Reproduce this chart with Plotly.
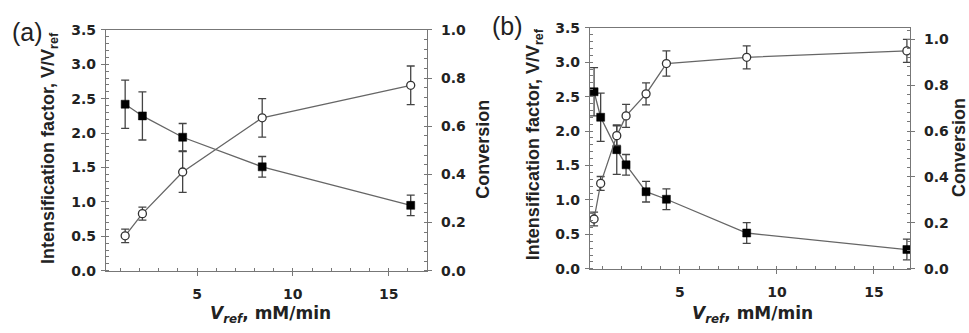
import plotly.graph_objects as go

# ---- data: panel (a)
a_x = [1.25, 2.15, 4.25, 8.4, 16.15]
a_int = [2.42, 2.25, 1.94, 1.51, 0.95]
a_int_err = [0.35, 0.35, 0.2, 0.15, 0.15]
a_conv = [0.145, 0.237, 0.41, 0.635, 0.77]
a_conv_err = [0.028, 0.027, 0.085, 0.08, 0.08]

# ---- data: panel (b)
b_x = [0.57, 0.91, 1.74, 2.22, 3.25, 4.3, 8.44, 16.7]
b_int = [2.57, 2.20, 1.73, 1.51, 1.12, 1.01, 0.52, 0.28]
b_int_err = [0.35, 0.35, 0.36, 0.15, 0.15, 0.15, 0.15, 0.15]
b_conv = [0.217, 0.372, 0.58, 0.666, 0.762, 0.894, 0.921, 0.949]
b_conv_err = [0.03, 0.03, 0.043, 0.05, 0.048, 0.055, 0.05, 0.05]

x_ticks = [5, 10, 15]
left_ticks = [0.0, 0.5, 1.0, 1.5, 2.0, 2.5, 3.0, 3.5]
right_ticks = [0.0, 0.2, 0.4, 0.6, 0.8, 1.0]

W, H = 969, 333
FONT = "Liberation Sans"
HFONT = "DejaVu Sans"
AX = "#777777"
LINE = "#666666"
ERR = "#444444"

fig = go.Figure()

def add_panel(x, intens, intens_err, conv, conv_err, xa, ya_left, ya_right):
    fig.add_trace(go.Scatter(
        x=x, y=conv, xaxis=xa, yaxis=ya_right, mode="lines+markers",
        line=dict(color=LINE, width=1.3),
        marker=dict(symbol="circle", size=8, color="white", line=dict(color="#333", width=1.3)),
        error_y=dict(type="data", array=conv_err, color=ERR, thickness=1.3, width=4),
        showlegend=False))
    fig.add_trace(go.Scatter(
        x=x, y=intens, xaxis=xa, yaxis=ya_left, mode="lines+markers",
        line=dict(color=LINE, width=1.3),
        marker=dict(symbol="square", size=8, color="black", line=dict(color="black", width=0.5)),
        error_y=dict(type="data", array=intens_err, color=ERR, thickness=1.3, width=4),
        showlegend=False))

add_panel(a_x, a_int, a_int_err, a_conv, a_conv_err, "x", "y", "y2")
add_panel(b_x, b_int, b_int_err, b_conv, b_conv_err, "x2", "y3", "y4")

tickfont = dict(family=HFONT, size=14, color="#222", weight="bold")

def xaxis(domain, rng, anchor):
    return dict(domain=domain, range=rng, anchor=anchor, showline=True, linecolor=AX,
                linewidth=1.2, mirror=True, showgrid=False, zeroline=False,
                tickvals=x_ticks, ticks="outside", ticklen=4, tickcolor=AX,
                tickfont=tickfont, ticklabelstandoff=6,
                minor=dict(ticks="inside", ticklen=3, dtick=1, tickcolor=AX, showgrid=False))

def yleft(domain, anchor):
    return dict(domain=domain, range=[0, 3.5], anchor=anchor, showline=True, linecolor=AX,
                linewidth=1.2, showgrid=False, zeroline=False,
                tickvals=left_ticks, ticktext=["%.1f" % v for v in left_ticks],
                ticks="outside", ticklen=4, tickcolor=AX, tickfont=tickfont,
                ticklabelstandoff=2,
                minor=dict(ticks="inside", ticklen=3, dtick=0.1, tick0=0, tickcolor=AX, showgrid=False))

def yright(overlay, anchor, rng):
    return dict(overlaying=overlay, side="right", anchor=anchor, range=rng, showline=True,
                linecolor=AX, linewidth=1.2, showgrid=False, zeroline=False,
                tickvals=right_ticks, ticktext=["%.1f" % v for v in right_ticks],
                ticks="outside", ticklen=4, tickcolor=AX, tickfont=tickfont,
                ticklabelstandoff=6,
                minor=dict(ticks="inside", ticklen=3, dtick=0.04, tick0=0, tickcolor=AX, showgrid=False))

def px(xp): return xp / W
def py(yp): return 1 - yp / H

fig.update_layout(
    width=W, height=H, margin=dict(l=0, r=0, t=0, b=0),
    paper_bgcolor="white", plot_bgcolor="white",
    xaxis=xaxis([px(106), px(427)], [0.25, 17.0], "y"),
    yaxis=yleft([py(276), py(23)], "x"),
    yaxis2=yright("y", "x", [0, 1.0]),
    xaxis2=xaxis([px(590), px(910)], [0.36, 16.86], "y3"),
    yaxis3=yleft([py(274), py(20.7)], "x2"),
    yaxis4=yright("y3", "x2", [0, 1.05]),
)

vfont = dict(family=FONT, size=18, color="#222")
hfont = dict(family=HFONT, size=17, color="#222")
ann = [
    dict(text="(a)", x=px(27), y=py(25), font=dict(family=FONT, size=25, color="#222")),
    dict(text="(b)", x=px(507), y=py(19), font=dict(family=FONT, size=25, color="#222")),
    dict(text="<b>Intensification factor, V/V<sub>ref</sub></b>", x=px(50), y=py(147),
         textangle=-90, font=vfont),
    dict(text="<b>Conversion</b>", x=px(483), y=py(149), textangle=-90, font=vfont),
    dict(text="<b>Intensification factor, V/V<sub>ref</sub></b>", x=px(534), y=py(143),
         textangle=-90, font=vfont),
    dict(text="<b>Conversion</b>", x=px(959), y=py(147), textangle=-90, font=vfont),
    dict(text="<b><i>V</i><sub><i>ref</i></sub>, mM/min</b>", x=px(270), y=py(322), font=hfont),
    dict(text="<b><i>V</i><sub><i>ref</i></sub>, mM/min</b>", x=px(752), y=py(322), font=hfont),
]
for a in ann:
    a.update(xref="paper", yref="paper", showarrow=False, xanchor="center", yanchor="middle")
fig.update_layout(annotations=ann)

fig.write_html("out.html", config={"displayModeBar": False},
               post_script="document.body.style.margin='0px';document.body.style.overflow='hidden';")
